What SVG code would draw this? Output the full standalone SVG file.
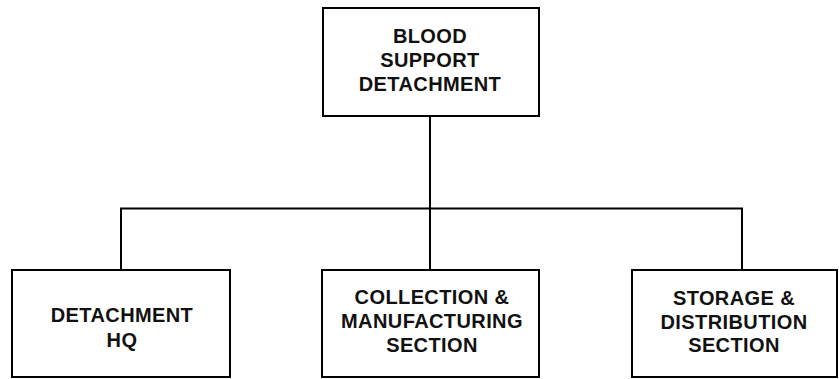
<svg xmlns="http://www.w3.org/2000/svg" width="839" height="379" viewBox="0 0 839 379">
<style>
.box{fill:#fff;stroke:#000;stroke-width:2}
.lbl{font-family:"Liberation Sans",Arial,sans-serif;font-weight:bold;font-size:20px;letter-spacing:0.4px;text-anchor:middle;fill:#111}
.conn{fill:none;stroke:#000;stroke-width:2}
</style>
<rect width="839" height="379" fill="#fff"/>
<g id="connectors">
<line class="conn" x1="430" y1="116" x2="430" y2="270"/>
<polyline class="conn" points="121,270 121,208.5 742,208.5 742,270"/>
</g>
<g id="blood-support-detachment">
<rect class="box" x="323" y="8" width="216" height="108"/>
<text class="lbl" x="430" y="43">BLOOD</text>
<text class="lbl" x="430" y="66.5">SUPPORT</text>
<text class="lbl" x="430" y="90.5">DETACHMENT</text>
</g>
<g id="detachment-hq">
<rect class="box" x="12" y="270" width="218" height="107"/>
<text class="lbl" x="122" y="322">DETACHMENT</text>
<text class="lbl" x="122" y="346.5">HQ</text>
</g>
<g id="collection-manufacturing">
<rect class="box" x="322" y="270" width="217" height="107"/>
<text class="lbl" x="432" y="304">COLLECTION &amp;</text>
<text class="lbl" x="432" y="328">MANUFACTURING</text>
<text class="lbl" x="432" y="352">SECTION</text>
</g>
<g id="storage-distribution">
<rect class="box" x="632" y="270" width="205" height="107"/>
<text class="lbl" x="734" y="305">STORAGE &amp;</text>
<text class="lbl" x="734" y="329">DISTRIBUTION</text>
<text class="lbl" x="734" y="352">SECTION</text>
</g>
</svg>
